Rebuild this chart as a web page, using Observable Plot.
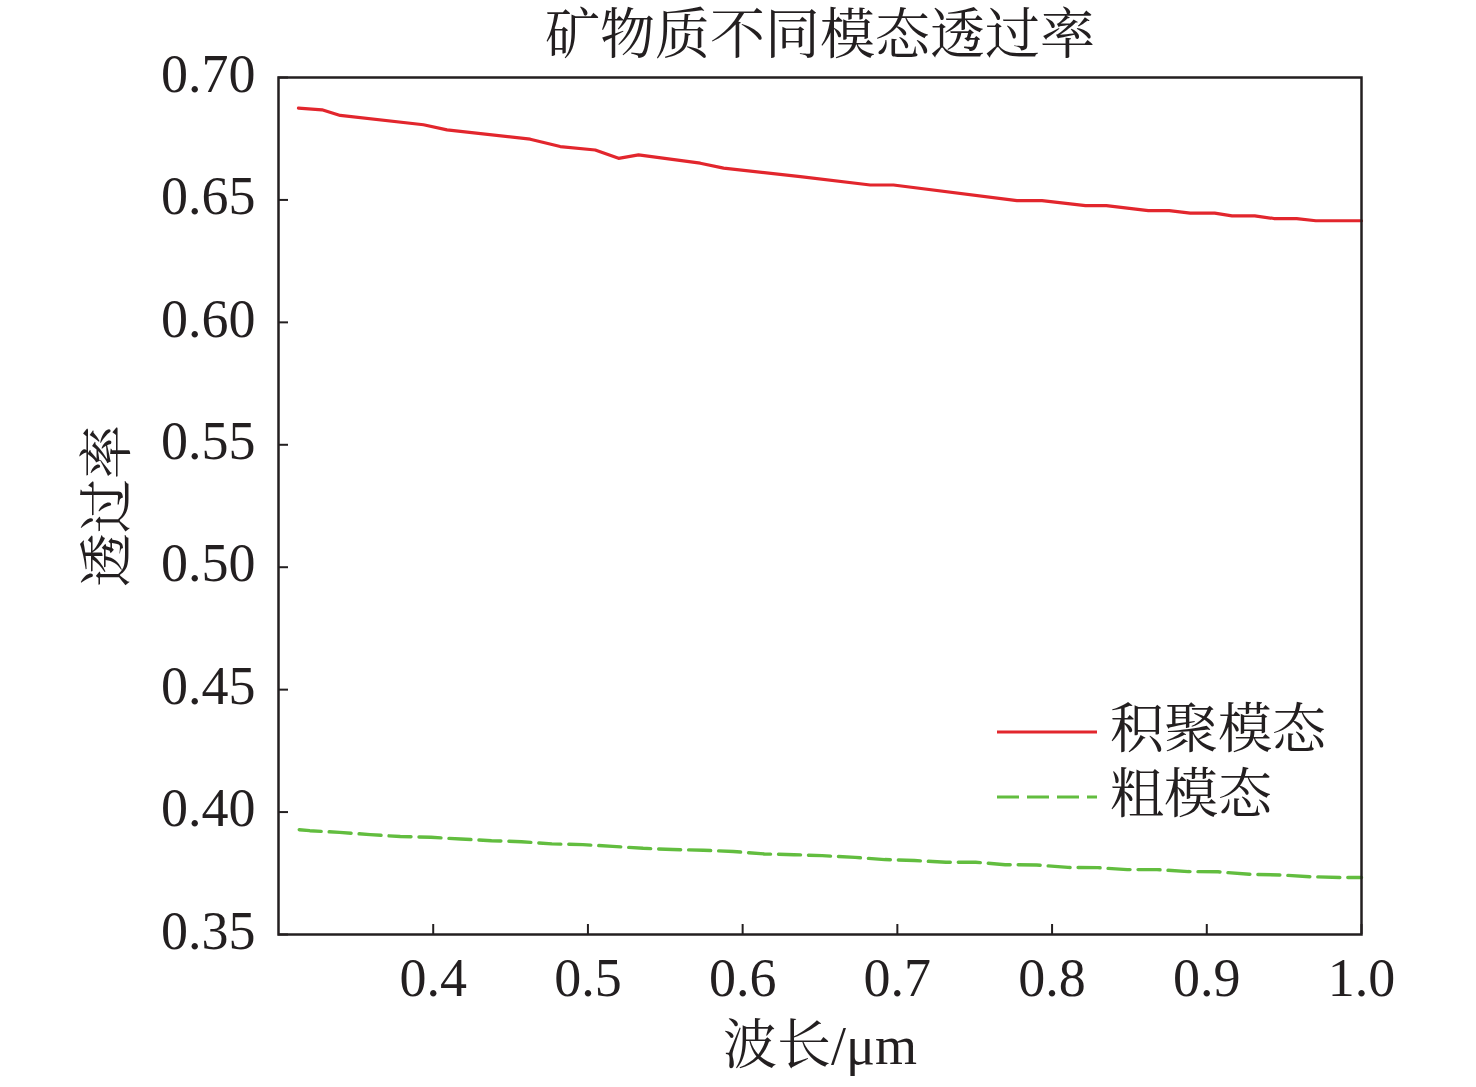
<!DOCTYPE html>
<html>
<head>
<meta charset="utf-8">
<script src="https://cdn.jsdelivr.net/npm/d3@7"></script>
<script src="https://cdn.jsdelivr.net/npm/@observablehq/plot@0.6"></script>
<style>
  html, body { margin: 0; padding: 0; background: #ffffff; }
  #chart { position: relative; width: 1476px; height: 1087px; }
</style>
</head>
<body>
<div id="chart"></div>
<script>
// ---- data ----
const accumWavelength = [0.3129, 0.3281, 0.3399, 0.3937, 0.4089, 0.4627, 0.4821, 0.5047, 0.5198, 0.5327,
  0.5726, 0.5877, 0.6373, 0.6825, 0.6975, 0.7773, 0.7935, 0.8216, 0.8351, 0.8622, 0.8757,
  0.8893, 0.9051, 0.9163, 0.9310, 0.9434, 0.9581, 0.9705, 1.0];
const accumTrans = [0.6875, 0.6868, 0.6845, 0.6807, 0.6786, 0.6748, 0.6718, 0.6704, 0.6670, 0.6684,
  0.6650, 0.6630, 0.6595, 0.6561, 0.6561, 0.6497, 0.6497, 0.6477, 0.6477, 0.6456, 0.6456,
  0.6446, 0.6446, 0.6435, 0.6435, 0.6424, 0.6424, 0.6415, 0.6415];

const coarseWavelength = [0.3134, 0.3202, 0.3395, 0.3592, 0.3787, 0.3985, 0.4178, 0.4377, 0.4570, 0.4767,
  0.4967, 0.5160, 0.5357, 0.5549, 0.5747, 0.5940, 0.6140, 0.6332, 0.6514, 0.6727, 0.6919,
  0.7111, 0.7314, 0.7506, 0.7697, 0.7900, 0.8103, 0.8295, 0.8486, 0.8678, 0.8881, 0.9073,
  0.9276, 0.9479, 0.9670, 0.9862, 1.0];
const coarseTrans = [0.3928, 0.3924, 0.3917, 0.3908, 0.3900, 0.3897, 0.3890, 0.3883, 0.3879, 0.3870,
  0.3867, 0.3860, 0.3852, 0.3847, 0.3844, 0.3839, 0.3829, 0.3826, 0.3822, 0.3815, 0.3806,
  0.3802, 0.3795, 0.3795, 0.3785, 0.3784, 0.3774, 0.3773, 0.3765, 0.3765, 0.3757, 0.3756,
  0.3746, 0.3743, 0.3736, 0.3733, 0.3733];

const xTicks = [0.4, 0.5, 0.6, 0.7, 0.8, 0.9, 1.0];
const yTicks = [0.35, 0.40, 0.45, 0.50, 0.55, 0.60, 0.65, 0.70];

const seriesNames = ["积聚模态", "粗模态"];
const titleText = "矿物质不同模态透过率";
const xLabel = "波长/μm";
const yLabel = "透过率";

// ---- build tables ----
const accum = accumWavelength.map((x, i) => ({x, y: accumTrans[i]}));
const coarse = coarseWavelength.map((x, i) => ({x, y: coarseTrans[i]}));

const RED = "#e2262d";
const GREEN = "#62bd3f";
const INK = "#231f20";
const FONT = "'Liberation Serif', 'Noto Serif CJK SC', 'Noto Sans CJK SC', serif";
const FS = 54;

const plot = Plot.plot({
  width: 1476,
  height: 1087,
  marginLeft: 278,
  marginRight: 115,
  marginTop: 77,
  marginBottom: 153,
  style: {fontFamily: FONT, fontSize: FS + "px", color: INK, background: "#ffffff", overflow: "visible"},
  x: {domain: [0.3, 1.0]},
  y: {domain: [0.35, 0.70]},
  marks: [
    // inward ticks
    Plot.axisX({ticks: xTicks, tickFormat: () => "", tickSize: -10, label: null, stroke: INK, strokeWidth: 2}),
    Plot.axisY({ticks: yTicks, tickFormat: () => "", tickSize: -10, label: null, stroke: INK, strokeWidth: 2}),
    // tick labels
    Plot.axisX({ticks: xTicks, tickFormat: d3.format(".1f"), tickSize: 0, tickPadding: 23,
      label: null, fontSize: FS, fill: INK}),
    Plot.axisY({ticks: yTicks, tickFormat: d3.format(".2f"), tickSize: 0, tickPadding: 23,
      label: null, fontSize: FS, fill: INK, dy: -3}),
    Plot.line(coarse, {x: "x", y: "y", stroke: GREEN, strokeWidth: 3.4, strokeDasharray: "22,8"}),
    Plot.line(accum, {x: "x", y: "y", stroke: RED, strokeWidth: 3.2}),
    Plot.frame({stroke: INK, strokeWidth: 2.5}),
    Plot.text([titleText], {frameAnchor: "top", dy: -42, lineAnchor: "middle", textAnchor: "middle", fontSize: 55, fill: INK}),
    Plot.text([xLabel], {frameAnchor: "bottom", dy: 112, lineAnchor: "middle", textAnchor: "middle", fontSize: FS, fill: INK}),
    Plot.text([yLabel], {frameAnchor: "left", dx: -170, rotate: -90, lineAnchor: "middle", textAnchor: "middle", fontSize: FS, fill: INK})
  ]
});

document.getElementById("chart").appendChild(plot);

// ---- legend ----
const svg = d3.select(plot);
const legend = svg.append("g")
  .attr("font-family", FONT).attr("font-size", FS).attr("fill", INK)
  .attr("text-anchor", "start");
const legendItems = [
  {name: seriesNames[0], color: RED, dash: null, y: 732},
  {name: seriesNames[1], color: GREEN, dash: "22,8", y: 797}
];
legendItems.forEach(it => {
  legend.append("line")
    .attr("x1", 997).attr("x2", 1097).attr("y1", it.y).attr("y2", it.y)
    .attr("stroke", it.color).attr("stroke-width", 3.2)
    .attr("stroke-dasharray", it.dash);
  legend.append("text")
    .attr("x", 1110).attr("y", it.y - 3).attr("dy", "0.36em")
    .attr("text-anchor", "start")
    .text(it.name);
});
</script>
</body>
</html>
